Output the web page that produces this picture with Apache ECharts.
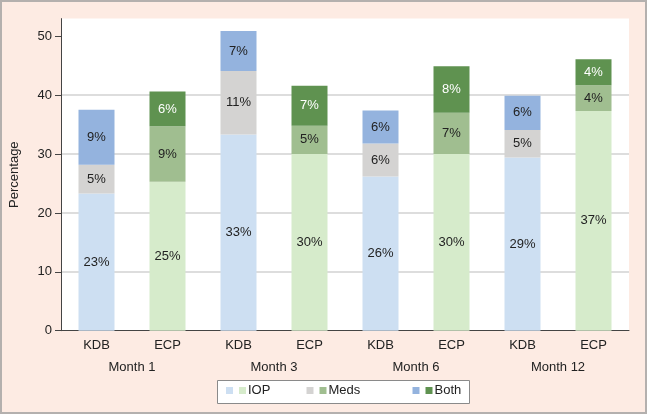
<!DOCTYPE html>
<html><head><meta charset="utf-8">
<script src="https://cdn.jsdelivr.net/npm/echarts@6/dist/echarts.min.js"></script>
<style>
html,body{margin:0;padding:0;background:#fdebe3;}
#wrap{position:relative;width:647px;height:414px;}
#chart{width:647px;height:414px;}
#frame{position:absolute;left:0;top:0;width:647px;height:414px;box-sizing:border-box;border:2px solid #b4b0ae;pointer-events:none;}
</style></head>
<body><div id="wrap"><div id="chart"></div><div id="frame"></div></div>
<script>
const months = ['Month 1','Month 3','Month 6','Month 12'];
const groups = ['KDB','ECP','KDB','ECP','KDB','ECP','KDB','ECP'];
const seriesNames = ['IOP','Meds','Both'];
const iop  = [23.3, 25.3, 33.3, 30.0, 26.2, 30.0, 29.4, 37.3];
const meds = [4.9, 9.4, 10.8, 4.8, 5.6, 7.0, 4.7, 4.4];
const both = [9.3, 5.9, 6.8, 6.8, 5.6, 7.9, 5.8, 4.4];
const yTicks = [0,10,20,30,40,50];

const kdbColors = ['#cddff2','#d4d3d2','#94b3de'];
const ecpColors = ['#d6ebcb','#a0be90','#5f9250'];
const ecpLabel = ['#222','#222','#ffffff'];
const values = [iop, meds, both];
const FONT = 'Liberation Sans, Arial, sans-serif';

const chart = echarts.init(document.getElementById('chart'));
const series = seriesNames.map((name, si) => ({
  name, type:'bar', stack:'s', barWidth:36,
  itemStyle:{color:kdbColors[si]},
  label:{show:true, position:'inside', fontSize:13, fontFamily:FONT, color:'#222',
         formatter:p=>Math.round(p.value)+'%'},
  data: values[si].map((v,i)=> i%2===0 ? {value:v} :
        {value:v, itemStyle:{color:ecpColors[si]}, label:{color:ecpLabel[si]}})
}));

const legendLefts = [226, 306.5, 412.5];
const legends = seriesNames.map((name, i) => {
  const rich = {n:{fontSize:13, color:'#222', fontFamily:FONT, padding:[0,0,0,2]},
                c:{width:7, height:7, backgroundColor:ecpColors[i]}};
  return {
    data:[name], left:legendLefts[i], top:384, icon:'rect', itemWidth:7, itemHeight:7,
    padding:0, itemGap:0,
    formatter:n=>'{c|}{n|'+n+'}',
    textStyle:{rich, padding:[0,0,0,1]}
  };
});

chart.setOption({
  backgroundColor:'#fdebe3',
  textStyle:{fontFamily:FONT},
  grid:{left:60, right:18, top:18.6, bottom:83.3, show:true, backgroundColor:'#ffffff', borderWidth:0},
  graphic:[{type:'rect', shape:{x:217.5, y:380.5, width:252, height:23},
            style:{fill:'#ffffff', stroke:'#8a8a8a', lineWidth:1}, z:-1}],
  legend:legends,
  xAxis:[
    {type:'category', data:groups, axisTick:{show:false},
     axisLine:{lineStyle:{color:'#444', width:1}},
     axisLabel:{color:'#222', fontSize:13, margin:8}},
    {type:'category', data:months, position:'bottom', offset:22, axisTick:{show:false},
     axisLine:{show:false}, axisLabel:{color:'#222', fontSize:13, margin:8}}
  ],
  yAxis:{type:'value', min:0, max:53, interval:10,
    name:'Percentage', nameLocation:'middle', nameGap:40, nameTextStyle:{color:'#222', fontSize:13},
    axisLine:{show:true, lineStyle:{color:'#444'}},
    axisTick:{show:true, length:6, lineStyle:{color:'#444'}, customValues:yTicks},
    axisLabel:{color:'#222', fontSize:13, margin:9, customValues:yTicks},
    splitLine:{show:true, showMinLine:false, showMaxLine:false, lineStyle:{color:'#d2d2d2', width:1.5}}
  },
  series
});
</script></body></html>
